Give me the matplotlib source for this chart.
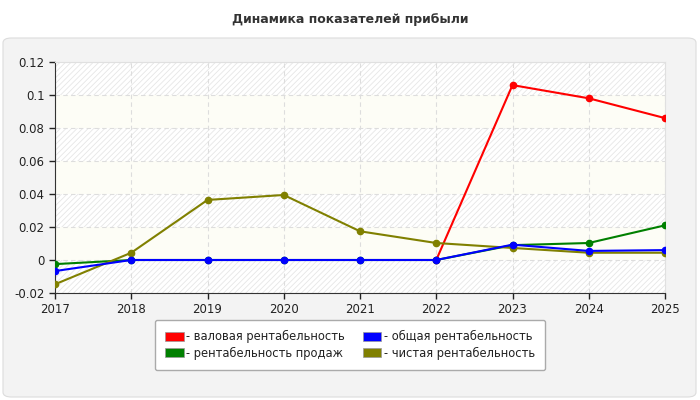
"""Динамика показателей прибыли."""
import matplotlib

matplotlib.use("Agg")
import matplotlib.pyplot as plt
import numpy as np
from matplotlib.patches import FancyBboxPatch, Patch

years = [2017, 2018, 2019, 2020, 2021, 2022, 2023, 2024, 2025]
gross = [None, None, None, None, None, 0.0, 0.106, 0.098, 0.086]
sales = [-0.0025, 0.0, 0.0, 0.0, 0.0, 0.0, 0.009, 0.0103, 0.021]
total = [-0.0067, 0.0, 0.0, 0.0, 0.0, 0.0, 0.0093, 0.0055, 0.006]
net = [-0.0147, 0.0044, 0.0364, 0.0394, 0.0174, 0.0103, 0.0073, 0.0044, 0.0044]

series = [
    ("- валовая рентабельность", gross, "#ff0000"),
    ("- рентабельность продаж", sales, "#008000"),
    ("- общая рентабельность", total, "#0000ff"),
    ("- чистая рентабельность", net, "#808000"),
]
draw_order = [0, 1, 3, 2]

plt.rcParams["font.family"] = "DejaVu Sans"
plt.rcParams["hatch.linewidth"] = 0.6

fig = plt.figure(figsize=(7, 4), dpi=100, facecolor="white")
panel = FancyBboxPatch(
    (3 / 700, 3 / 400), 693 / 700, 359 / 400,
    boxstyle="round,pad=0,rounding_size=0.012",
    transform=fig.transFigure, facecolor="#f3f3f3", edgecolor="#dcdcdc",
    linewidth=0.8, zorder=-5,
)
fig.patches.append(panel)
fig.text(0.5, 0.95, "Динамика показателей прибыли", ha="center", va="center",
         fontsize=9, fontweight="bold", color="#333333")

ax = fig.add_axes([55 / 700, 107 / 400, 610 / 700, 231 / 400], zorder=2)
ax.set_facecolor("#fdfdf6")

ticks = np.arange(-0.02, 0.1201, 0.02)
for i in range(len(ticks) - 1):
    if i % 2 == 0:
        ax.axhspan(ticks[i], ticks[i + 1], facecolor="white", edgecolor="#e6e6e6",
                   hatch="//////", linewidth=0, zorder=0)

for i in draw_order:
    label, vals, color = series[i]
    y = np.array([np.nan if v is None else v for v in vals], dtype=float)
    ax.plot(years, y, color=color, linewidth=1.5, marker="o", markersize=4.5,
            zorder=3)

ax.set_xlim(2017, 2025)
ax.set_ylim(-0.02, 0.12)
ax.set_xticks(years)
ax.set_yticks(ticks)
ax.set_yticklabels(["-0.02", "0", "0.02", "0.04", "0.06", "0.08", "0.1", "0.12"])
ax.grid(True, linestyle=(0, (4, 3)), color="#dddddd", linewidth=0.8, zorder=1)
ax.set_axisbelow(True)
ax.tick_params(labelsize=8.5, colors="#222222", length=4, width=1)
for side in ("left", "bottom"):
    ax.spines[side].set_color("#333333")
for side in ("top", "right"):
    ax.spines[side].set_color("#e0e0e0")

handles = [Patch(facecolor=c, edgecolor="#999999", linewidth=0.5) for _, _, c in series]
labels = [s[0] for s in series]
leg = fig.legend(handles, labels, ncol=2, loc="center", bbox_to_anchor=(0.5, 0.1375),
                 fontsize=8.3, frameon=True, fancybox=True, edgecolor="#aaaaaa",
                 facecolor="white", framealpha=1, handlelength=1.6, handleheight=0.8,
                 handletextpad=0.2, columnspacing=1.6, borderpad=0.9,
                 labelspacing=0.3)
for t in leg.get_texts():
    t.set_color("#222222")

fig.savefig("out.png", dpi=100, facecolor="white")
